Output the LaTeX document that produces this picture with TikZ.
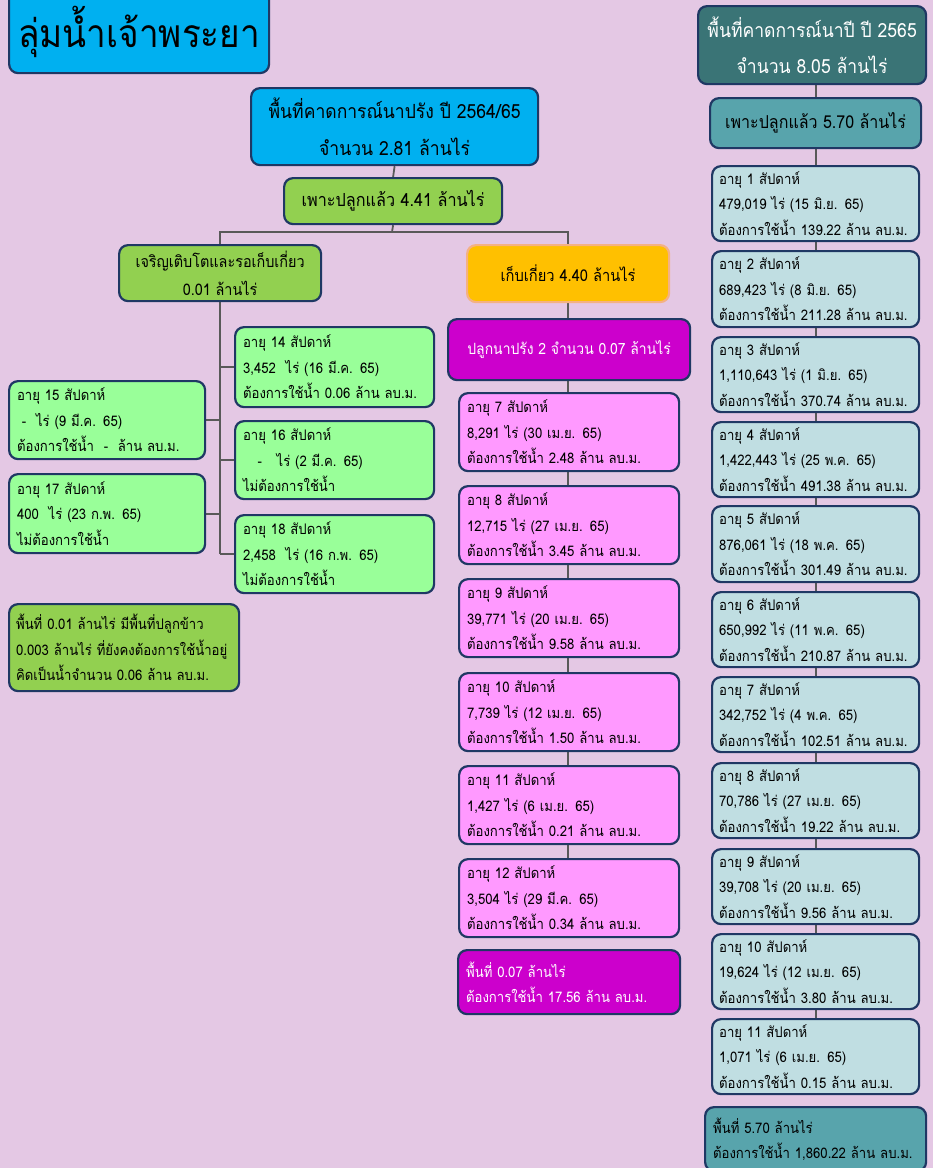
\documentclass[tikz,border=0pt]{standalone}
\usepackage{fontspec}
\setmainfont[Script=Thai,FakeStretch=0.9]{Loma}
\usetikzlibrary{backgrounds}
\definecolor{bgpurple}{RGB}{228,200,228}
\definecolor{navyline}{RGB}{31,56,100}
\definecolor{skyfill}{RGB}{0,176,240}
\definecolor{leaffill}{RGB}{146,208,80}
\definecolor{mintfill}{RGB}{153,255,153}
\definecolor{goldfill}{RGB}{255,192,0}
\definecolor{goldline}{RGB}{244,177,131}
\definecolor{plumfill}{RGB}{204,0,204}
\definecolor{pinkfill}{RGB}{255,153,255}
\definecolor{tealdark}{RGB}{58,116,118}
\definecolor{tealmid}{RGB}{88,164,172}
\definecolor{icefill}{RGB}{192,222,226}
\definecolor{linkgray}{RGB}{89,89,89}
\tikzset{
  panel/.style={
    draw=navyline,
    line width=2.2pt,
    rounded corners=9pt,
    anchor=north west,
    inner sep=0pt,
    align=center
  },
  headbox/.style 2 args={
    panel,
    minimum width=#1,
    minimum height=#2,
    font=\fontsize{17.5}{36}\selectfont
  },
  weekbox/.style 2 args={
    panel,
    align=left,
    inner xsep=8pt,
    text width=#1,
    minimum height=#2,
    font=\fontsize{14.6}{25.5}\selectfont
  },
  link/.style={draw=linkgray,line width=1.8pt}
}

\begin{document}
\begin{tikzpicture}[x=1pt,y=-1pt]
  \useasboundingbox (0,0) rectangle (933,1168);
  \begin{scope}[on background layer]
    \fill[bgpurple] (0,0) rectangle (933,1168);
  \end{scope}

  % left and middle: dry-season rice
  \node[headbox={260pt}{82pt},fill=skyfill,font=\fontsize{39}{48}\selectfont] (basin) at (8,-10) {ลุ่มน้ำเจ้าพระยา};
  \node[headbox={287pt}{77pt},fill=skyfill,font=\fontsize{19.5}{37}\selectfont] (dryarea) at (250,87) {พื้นที่คาดการณ์นาปรัง ปี 2564/65\\จำนวน 2.81 ล้านไร่};
  \node[headbox={218pt}{46pt},fill=leaffill,font=\fontsize{18}{36}\selectfont] (dryplant) at (283,177) {เพาะปลูกแล้ว 4.41 ล้านไร่};
  \node[headbox={202pt}{56pt},fill=leaffill,font=\fontsize{16}{28}\selectfont] (grow) at (118,244) {เจริญเติบโตและรอเก็บเกี่ยว\\0.01 ล้านไร่};
  \node[headbox={202pt}{57pt},fill=goldfill,draw=goldline,font=\fontsize{16.3}{28}\selectfont] (harvest) at (466,244) {เก็บเกี่ยว 4.40 ล้านไร่};
  \node[headbox={242pt}{61pt},fill=plumfill,text=white,font=\fontsize{15.5}{28}\selectfont] (second) at (447,318) {ปลูกนาปรัง 2 จำนวน 0.07 ล้านไร่};

  \node[weekbox={183pt}{80pt},fill=mintfill] (w14) at (234,326) {อายุ 14 สัปดาห์\\3,452~ ไร่ (16 มี.ค. 65)\\ต้องการใช้น้ำ 0.06 ล้าน ลบ.ม.};
  \node[weekbox={183pt}{78pt},fill=mintfill] (w16) at (234,420) {อายุ 16 สัปดาห์\\~~~-~~ ไร่ (2 มี.ค. 65)\\ไม่ต้องการใช้น้ำ};
  \node[weekbox={183pt}{78pt},fill=mintfill] (w18) at (234,514) {อายุ 18 สัปดาห์\\2,458~ ไร่ (16 ก.พ. 65)\\ไม่ต้องการใช้น้ำ};
  \node[weekbox={180pt}{78pt},fill=mintfill] (w15) at (8,380) {อายุ 15 สัปดาห์\\~-~ ไร่ (9 มี.ค. 65)\\ต้องการใช้น้ำ ~-~ ล้าน ลบ.ม.};
  \node[weekbox={180pt}{79pt},fill=mintfill] (w17) at (8,473) {อายุ 17 สัปดาห์\\400~ ไร่ (23 ก.พ. 65)\\ไม่ต้องการใช้น้ำ};
  \node[weekbox={216pt}{87pt},fill=leaffill,inner xsep=7pt] (growsum) at (8,603) {พื้นที่ 0.01 ล้านไร่ มีพื้นที่ปลูกข้าว\\0.003 ล้านไร่ ที่ยังคงต้องการใช้น้ำอยู่\\คิดเป็นน้ำจำนวน 0.06 ล้าน ลบ.ม.};

  \node[weekbox={204pt}{78pt},fill=pinkfill] (p7) at (458,392) {อายุ 7 สัปดาห์\\8,291 ไร่ (30 เม.ย. 65)\\ต้องการใช้น้ำ 2.48 ล้าน ลบ.ม.};
  \node[weekbox={204pt}{78pt},fill=pinkfill] (p8) at (458,485) {อายุ 8 สัปดาห์\\12,715 ไร่ (27 เม.ย. 65)\\ต้องการใช้น้ำ 3.45 ล้าน ลบ.ม.};
  \node[weekbox={204pt}{78pt},fill=pinkfill] (p9) at (458,578) {อายุ 9 สัปดาห์\\39,771 ไร่ (20 เม.ย. 65)\\ต้องการใช้น้ำ 9.58 ล้าน ลบ.ม.};
  \node[weekbox={204pt}{78pt},fill=pinkfill] (p10) at (458,672) {อายุ 10 สัปดาห์\\7,739 ไร่ (12 เม.ย. 65)\\ต้องการใช้น้ำ 1.50 ล้าน ลบ.ม.};
  \node[weekbox={204pt}{78pt},fill=pinkfill] (p11) at (458,765) {อายุ 11 สัปดาห์\\1,427 ไร่ (6 เม.ย. 65)\\ต้องการใช้น้ำ 0.21 ล้าน ลบ.ม.};
  \node[weekbox={204pt}{78pt},fill=pinkfill] (p12) at (458,858) {อายุ 12 สัปดาห์\\3,504 ไร่ (29 มี.ค. 65)\\ต้องการใช้น้ำ 0.34 ล้าน ลบ.ม.};
  \node[weekbox={206pt}{64pt},fill=plumfill,text=white] (plumsum) at (457,949) {พื้นที่ 0.07 ล้านไร่\\ต้องการใช้น้ำ 17.56 ล้าน ลบ.ม.};

  % right: wet-season rice
  \node[headbox={228pt}{78pt},fill=tealdark,text=white,font=\fontsize{19.5}{36}\selectfont] (wetarea) at (697,5) {พื้นที่คาดการณ์นาปี ปี 2565\\จำนวน 8.05 ล้านไร่};
  \node[headbox={211pt}{50pt},fill=tealmid,font=\fontsize{17.8}{36}\selectfont] (wetplant) at (709,97) {เพาะปลูกแล้ว 5.70 ล้านไร่};
  \node[weekbox={193pt}{75pt},fill=icefill,inner xsep=7pt] (r1) at (711,165) {อายุ 1 สัปดาห์\\479,019 ไร่ (15 มิ.ย. 65)\\ต้องการใช้น้ำ 139.22 ล้าน ลบ.ม.};
  \node[weekbox={193pt}{76pt},fill=icefill,inner xsep=7pt] (r2) at (711,250) {อายุ 2 สัปดาห์\\689,423 ไร่ (8 มิ.ย. 65)\\ต้องการใช้น้ำ 211.28 ล้าน ลบ.ม.};
  \node[weekbox={193pt}{75pt},fill=icefill,inner xsep=7pt] (r3) at (711,336) {อายุ 3 สัปดาห์\\1,110,643 ไร่ (1 มิ.ย. 65)\\ต้องการใช้น้ำ 370.74 ล้าน ลบ.ม.};
  \node[weekbox={193pt}{75pt},fill=icefill,inner xsep=7pt] (r4) at (711,421) {อายุ 4 สัปดาห์\\1,422,443 ไร่ (25 พ.ค. 65)\\ต้องการใช้น้ำ 491.38 ล้าน ลบ.ม.};
  \node[weekbox={193pt}{76pt},fill=icefill,inner xsep=7pt] (r5) at (711,505) {อายุ 5 สัปดาห์\\876,061 ไร่ (18 พ.ค. 65)\\ต้องการใช้น้ำ 301.49 ล้าน ลบ.ม.};
  \node[weekbox={193pt}{75pt},fill=icefill,inner xsep=7pt] (r6) at (711,591) {อายุ 6 สัปดาห์\\650,992 ไร่ (11 พ.ค. 65)\\ต้องการใช้น้ำ 210.87 ล้าน ลบ.ม.};
  \node[weekbox={193pt}{75pt},fill=icefill,inner xsep=7pt] (r7) at (711,676) {อายุ 7 สัปดาห์\\342,752 ไร่ (4 พ.ค. 65)\\ต้องการใช้น้ำ 102.51 ล้าน ลบ.ม.};
  \node[weekbox={193pt}{75pt},fill=icefill,inner xsep=7pt] (r8) at (711,762) {อายุ 8 สัปดาห์\\70,786 ไร่ (27 เม.ย. 65)\\ต้องการใช้น้ำ 19.22 ล้าน ลบ.ม.};
  \node[weekbox={193pt}{75pt},fill=icefill,inner xsep=7pt] (r9) at (711,848) {อายุ 9 สัปดาห์\\39,708 ไร่ (20 เม.ย. 65)\\ต้องการใช้น้ำ 9.56 ล้าน ลบ.ม.};
  \node[weekbox={193pt}{75pt},fill=icefill,inner xsep=7pt] (r10) at (711,933) {อายุ 10 สัปดาห์\\19,624 ไร่ (12 เม.ย. 65)\\ต้องการใช้น้ำ 3.80 ล้าน ลบ.ม.};
  \node[weekbox={193pt}{75pt},fill=icefill,inner xsep=7pt] (r11) at (711,1018) {อายุ 11 สัปดาห์\\1,071 ไร่ (6 เม.ย. 65)\\ต้องการใช้น้ำ 0.15 ล้าน ลบ.ม.};
  \node[weekbox={205pt}{64pt},fill=tealmid] (wetsum) at (704,1106) {พื้นที่ 5.70 ล้านไร่\\ต้องการใช้น้ำ 1,860.22 ล้าน ลบ.ม.};

  % connectors, behind the boxes
  \coordinate (split) at (392,232);
  \begin{scope}[on background layer]
    \draw[link] (dryarea.south) -- (dryplant.north);
    \draw[link] (dryplant.south) -- (split);
    \draw[link] (grow.north) |- (split) -| (harvest.north);
    \draw[link] (grow.south) -- (grow.south |- w18.west);
    \draw[link] (grow.south |- w14.west) -- (w14.west);
    \draw[link] (grow.south |- w16.west) -- (w16.west);
    \draw[link] (grow.south |- w18.west) -- (w18.west);
    \draw[link] (grow.south |- w15.east) -- (w15.east);
    \draw[link] (grow.south |- w17.east) -- (w17.east);
    \draw[link] (harvest.south) -- (harvest.south |- p12.north);
    \draw[link] (wetarea.south -| r1.north) -- (r11.north);
  \end{scope}
\end{tikzpicture}
\end{document}
